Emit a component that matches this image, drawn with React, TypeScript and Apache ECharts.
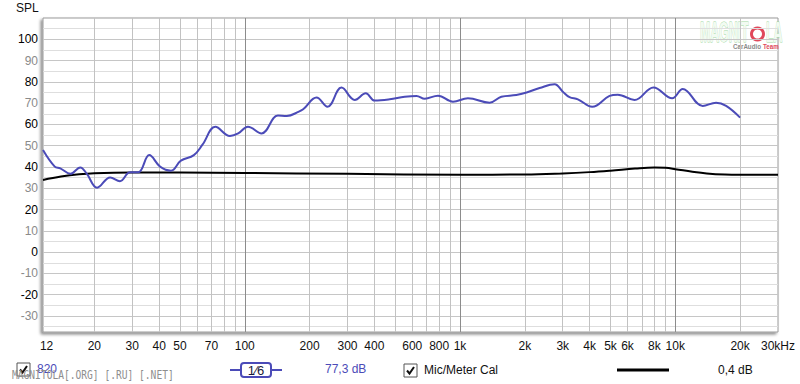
import React, { useEffect, useRef } from 'react';
import * as echarts from 'echarts';

const FREQ_MIN = 11.55;
const FREQ_MAX = 30000;
const SPL_MIN = -37.5;
const SPL_MAX = 110;

// Measured response "820" (Hz, dB SPL)
const measFreq = [11.55, 13.1, 13.9, 15.5, 17.2, 18.4, 20.6, 23.7, 26.3, 29.3, 32, 36, 40.4, 45.4, 50.5, 58, 63.6, 73, 85.3, 93.2, 103.4, 119.6, 142.5, 156.8, 178.3, 186.7, 215.4, 242.3, 281.4, 324.3, 364.8, 401.6, 471.3, 553.4, 627.4, 685.4, 790, 927.4, 1088, 1372, 1555, 1825, 2038, 2342, 2749, 3003, 3226, 3527, 4113, 4949, 5407, 6465, 7917, 9672, 10831, 13412, 15471, 17224, 20000];
const measSpl = [48, 40.2, 39.4, 36.8, 39.8, 37, 30.3, 35.1, 33.3, 37.5, 37.5, 45.6, 40.2, 38.3, 43, 45.6, 50.5, 58.9, 54.6, 55.8, 58.9, 55.8, 64.2, 64, 66, 67.1, 72.6, 68.3, 77.3, 71.5, 74.6, 71.2, 71.8, 73, 73.4, 72.1, 73.5, 70.7, 72.3, 70.2, 73, 73.8, 75, 77.1, 78.9, 75.4, 72.8, 71.8, 68.3, 73.4, 74, 71.5, 77.4, 72.3, 76.7, 68.7, 70.2, 68.7, 63.2];

// Mic/Meter calibration curve
const calFreq = [11.55, 14, 17, 20, 30, 50, 100, 300, 1000, 2000, 3000, 4000, 5000, 6500, 8000, 9000, 10000, 12000, 14000, 17000, 20000, 30000];
const calSpl = [33.9, 35.5, 36.6, 37.1, 37.4, 37.4, 37.2, 36.8, 36.4, 36.5, 37.0, 37.6, 38.3, 39.3, 39.8, 39.6, 39.0, 37.8, 37.0, 36.5, 36.4, 36.4];

const xLabelFreqs = [12, 20, 30, 40, 50, 70, 100, 200, 300, 400, 600, 800, 1000, 2000, 3000, 4000, 5000, 6000, 8000, 10000, 20000, 30000];
const xLabelTexts = ['12', '20', '30', '40', '50', '70', '100', '200', '300', '400', '600', '800', '1k', '2k', '3k', '4k', '5k', '6k', '8k', '10k', '20k', '30kHz'];
const yLabelValues = [100, 90, 80, 70, 60, 50, 40, 30, 20, 10, 0, -10, -20, -30];

const yAxisTitle = 'SPL';
const measName = '820';
const smoothingText = '1\u20446';
const measLevel = '77,3 dB';
const calName = 'Mic/Meter Cal';
const calLevel = '0,4 dB';
const watermark = 'MAGNITOLA[.ORG] [.RU] [.NET]';

const FONT = '"Liberation Sans", Arial, sans-serif';
const BLUE = '#4b4bb8';

const lg = (f: number) => Math.log10(f);

export default function App() {
  const ref = useRef<HTMLDivElement>(null);
  useEffect(() => {
    if (!ref.current) return;
    const chart = echarts.init(ref.current, null, { renderer: 'svg' });

    const minorFreqs: number[] = [];
    const decadeFreqs: number[] = [];
    [10, 100, 1000, 10000].forEach((d) => {
      for (let m = 1; m <= 9; m++) {
        const f = m * d;
        if (f > FREQ_MIN && f < FREQ_MAX * 0.99) {
          if (m === 1) decadeFreqs.push(lg(f));
          else minorFreqs.push(lg(f));
        }
      }
    });
    const yTicks: number[] = [];
    for (let v = -35; v <= 105; v += 5) yTicks.push(v);

    const xFormatter = (v: number) => {
      const i = xLabelFreqs.findIndex((f) => Math.abs(lg(f) - v) < 1e-6);
      return i >= 0 ? xLabelTexts[i] : '';
    };

    const check = (x: number, y: number) => [
      { type: 'rect', shape: { x, y, width: 13, height: 13 }, style: { fill: '#fff', stroke: '#555', lineWidth: 1 } },
      { type: 'polyline', shape: { points: [[x + 3, y + 6.5], [x + 5.5, y + 9.5], [x + 10, y + 3]] }, style: { fill: 'none', stroke: '#111', lineWidth: 2 } },
    ];

    chart.setOption({
      animation: false,
      backgroundColor: '#fff',
      grid: {
        left: 43, right: 22, top: 18, bottom: 52, show: true,
        backgroundColor: '#fff', borderColor: '#9a9a9a', borderWidth: 1,
        shadowColor: 'rgba(0,0,0,0.45)', shadowBlur: 3, shadowOffsetX: -2, shadowOffsetY: 2,
      },
      xAxis: [
        {
          type: 'value', min: lg(FREQ_MIN), max: lg(FREQ_MAX),
          axisLine: { show: false },
          axisTick: { show: false, customValues: minorFreqs },
          axisLabel: { customValues: xLabelFreqs.map(lg), formatter: xFormatter, color: '#111', fontSize: 12, fontFamily: FONT, margin: 8 },
          splitLine: { show: true, lineStyle: { color: '#c2c2c2', width: 1 } },
        },
        {
          type: 'value', min: lg(FREQ_MIN), max: lg(FREQ_MAX), position: 'bottom',
          axisLine: { show: false },
          axisTick: { show: false, customValues: decadeFreqs },
          axisLabel: { show: false },
          splitLine: { show: true, lineStyle: { color: '#8c8c8c', width: 1 } },
        },
      ],
      yAxis: {
        type: 'value', min: SPL_MIN, max: SPL_MAX,
        axisLine: { show: false },
        axisTick: { show: false, customValues: yTicks },
        axisLabel: {
          customValues: yLabelValues, margin: 5, fontSize: 12, fontFamily: FONT,
          formatter: (v: number) => (v % 20 === 0 ? `{a|${v}}` : `{b|${v}}`),
          rich: { a: { color: '#000', fontSize: 12, fontFamily: FONT }, b: { color: '#8a8a8a', fontSize: 12, fontFamily: FONT } },
        },
        splitLine: { show: true, lineStyle: { color: ['#dedede', '#c6c6c6'], width: 1 } },
      },
      series: [
        {
          name: calName, type: 'line', xAxisIndex: 0, showSymbol: false, smooth: 0.4,
          data: calFreq.map((f, i) => [lg(f), calSpl[i]]),
          lineStyle: { color: '#000', width: 2 }, itemStyle: { color: '#000' },
        },
        {
          name: measName, type: 'line', xAxisIndex: 0, showSymbol: false, smooth: 0.4,
          data: measFreq.map((f, i) => [lg(f), measSpl[i]]),
          lineStyle: { color: BLUE, width: 2 }, itemStyle: { color: BLUE },
        },
      ],
      graphic: [
        { type: 'text', x: 16, y: 8, style: { text: yAxisTitle, font: `12px ${FONT}`, fill: '#111', verticalAlign: 'middle' } },
        {
          type: 'group', x: 700, y: 17,
          children: [
            { type: 'text', x: 0, y: 0, scaleX: 0.41, style: { text: 'MAGNIT', font: `bold 30px ${FONT}`, fill: '#f2fbf2', stroke: '#9fd89f', lineWidth: 1, verticalAlign: 'top' } },
            { type: 'ring', shape: { cx: 57.5, cy: 17, r: 7.5, r0: 4.5 }, style: { fill: '#e0485a' } },
            { type: 'text', x: 66, y: 0, scaleX: 0.41, style: { text: 'LA', font: `bold 30px ${FONT}`, fill: '#f2fbf2', stroke: '#9fd89f', lineWidth: 1, verticalAlign: 'top' } },
            { type: 'text', x: 33, y: 26, scaleX: 0.78, style: { text: 'CarAudio', font: `bold 8px ${FONT}`, fill: '#8a8a8a', verticalAlign: 'top' } },
            { type: 'text', x: 63, y: 26, scaleX: 0.78, style: { text: 'Team', font: `bold 8px ${FONT}`, fill: '#e0485a', verticalAlign: 'top' } },
          ],
        },
        ...check(17, 363),
        { type: 'text', x: 37, y: 369, style: { text: measName, font: `12px ${FONT}`, fill: BLUE, verticalAlign: 'middle' } },
        { type: 'text', x: 12, y: 375, scaleX: 0.8, style: { text: watermark, font: `12px "DejaVu Sans Mono", monospace`, fill: '#8e8e8e', verticalAlign: 'middle' } },
        { type: 'line', shape: { x1: 230, y1: 370, x2: 241, y2: 370 }, style: { stroke: BLUE, lineWidth: 2 } },
        { type: 'line', shape: { x1: 271, y1: 370, x2: 282, y2: 370 }, style: { stroke: BLUE, lineWidth: 2 } },
        { type: 'rect', shape: { x: 241, y: 363, width: 30, height: 14, r: 3 }, style: { fill: '#fff', stroke: BLUE, lineWidth: 2 } },
        { type: 'text', x: 256, y: 370, style: { text: smoothingText, font: `13px ${FONT}`, fill: '#1a1a3a', align: 'center', verticalAlign: 'middle' } },
        { type: 'text', x: 325, y: 369, style: { text: measLevel, font: `12px ${FONT}`, fill: BLUE, verticalAlign: 'middle' } },
        ...check(404, 364),
        { type: 'text', x: 424, y: 370, style: { text: calName, font: `12px ${FONT}`, fill: '#111', verticalAlign: 'middle' } },
        { type: 'line', shape: { x1: 617, y1: 370, x2: 669, y2: 370 }, style: { stroke: '#000', lineWidth: 3 } },
        { type: 'text', x: 718, y: 370, style: { text: calLevel, font: `12px ${FONT}`, fill: '#111', verticalAlign: 'middle' } },
      ],
    });
    return () => chart.dispose();
  }, []);
  return <div ref={ref} style={{ position: 'absolute', left: 0, top: 0, width: 800, height: 384 }} />;
}
